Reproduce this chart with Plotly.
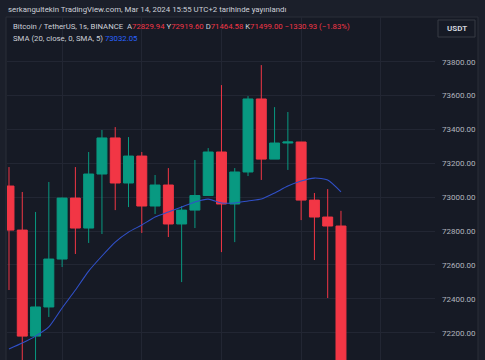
import plotly.graph_objects as go

# ---- data ----
bar_index = list(range(26))
open_ = [73066, 72806, 72180, 72352, 72635, 72995, 72818, 73137, 73350, 73084,
         73243, 72948, 73072, 72842, 72924, 73010, 73267, 72960, 73149, 73580,
         73225, 73320, 73326, 72983, 72883, 72829.94]
high = [73178, 73031, 72913, 73090, 72998, 73178, 73267, 73397, 73414, 73355,
        73267, 73131, 73172, 72948, 73220, 73290, 73662, 73172, 73597, 73780,
        73532, 73503, 73326, 73025, 73048, 72919.60]
low = [72452, 71950, 71980, 72293, 72588, 72665, 72730, 72783, 72924, 72942,
       72789, 72901, 72765, 72499, 72818, 73007, 72676, 72735, 73125, 73102,
       73225, 73161, 72865, 72629, 72405, 71464.58]
close = [72806, 72180, 72352, 72635, 72995, 72818, 73137, 73350, 73084, 73243,
         72948, 73072, 72842, 72924, 73010, 73267, 72960, 73149, 73580, 73225,
         73320, 73326, 72983, 72883, 72829.94, 71499.00]
sma = [72104, 72139, 72180, 72234, 72346, 72452, 72564, 72653, 72735, 72794,
       72836, 72883, 72913, 72942, 72972, 72989, 72966, 72966, 72978, 72989,
       73025, 73066, 73096, 73113, 73102, 73032.05]
price_ticks = [72200, 72400, 72600, 72800, 73000, 73200, 73400, 73600, 73800]
price_tick_labels = [f"{v:.2f}" for v in price_ticks]
time_grid = [4, 10, 16, 22, 28]

W, H = 485, 360
BG = "#161a25"
OUTER = "#1b1f2a"
GRID = "#222633"
UP = "#089981"
DOWN = "#f23645"
TXT = "#cdd0d8"

def px(x):
    return x / W

def py(y):
    return 1 - y / H

fig = go.Figure()
fig.add_trace(go.Candlestick(
    x=bar_index, open=open_, high=high, low=low, close=close,
    increasing=dict(line=dict(color=UP, width=1), fillcolor=UP),
    decreasing=dict(line=dict(color=DOWN, width=1), fillcolor=DOWN),
    whiskerwidth=0, hoverinfo="skip", showlegend=False,
))
fig.add_trace(go.Scatter(
    x=bar_index, y=sma, mode="lines",
    line=dict(color="#3050c8", width=1.1, shape="spline", smoothing=0.6),
    hoverinfo="skip", showlegend=False,
))

fig.update_layout(
    width=W, height=H,
    margin=dict(l=0, r=0, t=0, b=0),
    paper_bgcolor=OUTER, plot_bgcolor="rgba(0,0,0,0)",
    boxgap=0.25, boxgroupgap=0,
    xaxis=dict(domain=[px(7), px(435)], range=[-0.15, 32.08],
               rangeslider=dict(visible=False),
               tickvals=time_grid, showticklabels=False,
               showgrid=True, gridcolor=GRID, gridwidth=1,
               zeroline=False, showline=False, fixedrange=True),
    yaxis=dict(domain=[0, 1 - 17 / H], range=[72039, 74064], side="right",
               tickvals=price_ticks, ticktext=price_tick_labels,
               showgrid=True, gridcolor=GRID, gridwidth=1,
               zeroline=False, showline=False, ticks="",
               ticklabelstandoff=6,
               tickfont=dict(family="Roboto", size=8, color="#b2b5be"),
               fixedrange=True),
    font=dict(family="Roboto"),
    shapes=[
        dict(type="rect", xref="paper", yref="paper",
             x0=px(6), x1=px(478), y0=py(360.5), y1=py(17),
             fillcolor=BG, line=dict(color="#2a2e39", width=1), layer="below"),
        dict(type="rect", xref="paper", yref="paper",
             x0=px(438), x1=px(475), y0=py(37), y1=py(20),
             fillcolor=BG, line=dict(color="#363a45", width=1), layer="above"),
    ],
)

red = DOWN
line1 = (f"<span style='color:{TXT}'>Bitcoin / TetherUS, 1s, BINANCE  A</span>"
         f"<span style='color:{red}'>{open_[-1]:.2f}</span>"
         f"<span style='color:{TXT}'> Y</span><span style='color:{red}'>{high[-1]:.2f}</span>"
         f"<span style='color:{TXT}'> D</span><span style='color:{red}'>{low[-1]:.2f}</span>"
         f"<span style='color:{TXT}'> K</span><span style='color:{red}'>{close[-1]:.2f}</span>"
         f"<span style='color:{red}'> −1330.93 (−1.83%)</span>")
line2 = (f"<span style='color:{TXT}'>SMA (20, close, 0, SMA, 5) </span>"
         f"<span style='color:#2962ff'>{sma[-1]:.2f}</span>")

annos = [
    dict(text="serkangultekin TradingView.com, Mar 14, 2024 15:55 UTC+2 tarihinde yayınlandı",
         x=px(6), y=py(9), xanchor="left", yanchor="middle",
         font=dict(size=7.85, color=TXT)),
    dict(text=line1, x=px(11), y=py(27), xanchor="left", yanchor="middle",
         font=dict(size=7.75, color=TXT)),
    dict(text=line2, x=px(11), y=py(38.5), xanchor="left", yanchor="middle",
         font=dict(size=7.75, color=TXT)),
    dict(text="<b>USDT</b>", x=px(456.5), y=py(28.5), xanchor="center", yanchor="middle",
         font=dict(size=8, color="#d1d4dc")),
]
for a in annos:
    a.update(xref="paper", yref="paper", showarrow=False)
fig.update_layout(annotations=annos)

fig.write_html("out.html", config={"displayModeBar": False},
               post_script="document.body.style.margin='0px';document.body.style.overflow='hidden';")
